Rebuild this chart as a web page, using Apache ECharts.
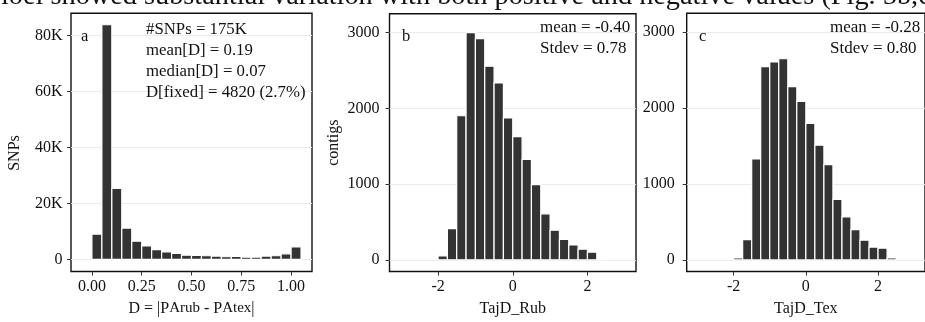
<!DOCTYPE html>
<html><head><meta charset="utf-8">
<script src="https://cdn.jsdelivr.net/npm/echarts@6/dist/echarts.min.js"></script>
<style>html,body{margin:0;padding:0;background:#fff;overflow:hidden}#c{width:925px;height:322px}</style>
</head><body><div id="c"></div>
<script>
// ---- data ----
const aEdges = [0, 0.05, 0.10, 0.15, 0.20, 0.25, 0.30, 0.35, 0.40, 0.45, 0.50, 0.55, 0.60, 0.65, 0.70, 0.75, 0.80, 0.85, 0.90, 0.95, 1.00, 1.05];
const aCounts = [9060, 83900, 25400, 11200, 6500, 4800, 3500, 2700, 2100, 1500, 1400, 1300, 1200, 940, 1060, 820, 820, 1200, 1300, 2000, 4500];
const aXTicks = [0, 0.25, 0.5, 0.75, 1.0];
const aYTicks = [0, 20000, 40000, 60000, 80000];
const tajEdges = [-2, -1.75, -1.5, -1.25, -1, -0.75, -0.5, -0.25, 0, 0.25, 0.5, 0.75, 1, 1.25, 1.5, 1.75, 2, 2.25, 2.5];
const rubCounts = [52, 412, 1903, 3000, 2922, 2558, 2337, 1873, 1626, 1327, 993, 607, 390, 269, 195, 139, 100, 9];
const texCounts = [26, 268, 1329, 2545, 2606, 2649, 2281, 2087, 1797, 1511, 1255, 797, 567, 398, 260, 169, 156, 26];
const tajXTicks = [-2, 0, 2];
const tajYTicks = [0, 1000, 2000, 3000];
const annA = ['#SNPs = 175K', 'mean[D] = 0.19', 'median[D] = 0.07', 'D[fixed] = 4820 (2.7%)'];
const annB = ['mean = -0.40', 'Stdev = 0.78'];
const annC = ['mean = -0.28', 'Stdev = 0.80'];
const panelLetters = ['a', 'b', 'c'];
const yTitleA = 'SNPs';
const topLine = 'ioel showed substantial variation with both positive and negative values (Fig. 5b,c';

// ---- helpers ----
const FONT = 'Liberation Serif';
const TXT = '#111';
function toBins(edges, counts) {
  return counts.map((c, i) => [edges[i], edges[i + 1], c]);
}
function renderBar(params, api) {
  const p0 = api.coord([api.value(0), api.value(2)]);
  const p1 = api.coord([api.value(1), 0]);
  return {
    type: 'rect',
    shape: { x: p0[0], y: p0[1], width: p1[0] - p0[0], height: p1[1] - p0[1] },
    style: { fill: '#333333', stroke: '#ffffff', lineWidth: 1.2 }
  };
}
function xAxis(gi, min, max, interval, ticks, fmt, name, rich) {
  return {
    type: 'value', gridIndex: gi, min: min, max: max, interval: interval,
    axisLine: { show: false, onZero: false },
    axisTick: { show: true, length: 4, lineStyle: { color: '#333', width: 1 }, customValues: ticks },
    axisLabel: { customValues: ticks, formatter: fmt, fontFamily: FONT, fontSize: 16, color: TXT, margin: 7 },
    splitLine: { show: false },
    name: name, nameLocation: 'middle', nameGap: 29.5,
    nameTextStyle: Object.assign({ fontFamily: FONT, fontSize: 16, color: TXT }, rich ? { rich: rich } : {})
  };
}
function yAxis(gi, min, max, interval, ticks, fmt, name, margin) {
  return {
    type: 'value', gridIndex: gi, min: min, max: max, interval: interval,
    axisLine: { show: false, onZero: false },
    axisTick: { show: true, length: 4, lineStyle: { color: '#333', width: 1 }, customValues: ticks },
    axisLabel: { customValues: ticks, formatter: fmt, fontFamily: FONT, fontSize: 16, color: TXT, margin: margin },
    splitLine: { show: true, lineStyle: { color: '#ebebeb', width: 1 } },
    name: name, nameLocation: 'middle', nameGap: 48,
    nameTextStyle: { fontFamily: FONT, fontSize: 16, color: TXT }
  };
}
function gridBox(left, top, width, height) {
  return { left: left, top: top, width: width, height: height, show: true, borderColor: '#111', borderWidth: 1.4, backgroundColor: '#fff', containLabel: false };
}
function textEl(x, y, s, size) {
  return { type: 'text', x: x, y: y, z: 100, style: { text: s, fontFamily: FONT, fontSize: size || 16, fill: TXT, align: 'left', verticalAlign: 'middle' } };
}

const subRich = {
  n: { fontFamily: FONT, fontSize: 16, color: TXT, lineHeight: 16, verticalAlign: 'top' },
  s: { fontFamily: FONT, fontSize: 15, color: TXT, lineHeight: 23, verticalAlign: 'top' }
};

const graphics = [];
graphics.push({ type: 'text', x: 1, y: -3, z: 100, style: { text: topLine, fontFamily: FONT, fontSize: 28.3, fill: '#111', align: 'left', verticalAlign: 'middle' } });
graphics.push({ type: 'text', x: 15, y: 153, rotation: Math.PI / 2, z: 100, style: { text: yTitleA, fontFamily: FONT, fontSize: 16, fill: TXT, align: 'center', verticalAlign: 'middle' } });
graphics.push(textEl(81, 36.5, panelLetters[0], 16.5));
graphics.push(textEl(402, 36.5, panelLetters[1], 16.5));
graphics.push(textEl(699, 36.5, panelLetters[2], 16.5));
annA.forEach((s, i) => graphics.push(textEl(146, 29.5 + i * 21, s, 16.8)));
annB.forEach((s, i) => graphics.push(textEl(540, 27.3 + i * 21.3, s, 17)));
annC.forEach((s, i) => graphics.push(textEl(830, 27.3 + i * 21.3, s, 17)));

const chart = echarts.init(document.getElementById('c'), null, { renderer: 'canvas', width: 925, height: 322 });
chart.setOption({
  animation: false,
  backgroundColor: '#ffffff',
  grid: [
    gridBox(71, 13.3, 241, 262),
    gridBox(389.5, 13.8, 246.5, 262),
    gridBox(686.7, 13.3, 246.5, 262)
  ],
  xAxis: [
    xAxis(0, -0.105, 1.105, 0.25, aXTicks, v => v.toFixed(2), '{n|D = |P}{s|Arub}{n| - P}{s|Atex}{n||}', subRich),
    xAxis(1, -3.3, 3.3, 2, tajXTicks, v => String(v), 'TajD_Rub'),
    xAxis(2, -3.3, 3.3, 2, tajXTicks, v => String(v), 'TajD_Tex')
  ],
  yAxis: [
    yAxis(0, -4330, 88000, 20000, aYTicks, v => v === 0 ? '0' : (v / 1000) + 'K', '', 8.5),
    yAxis(1, -155, 3250, 1000, tajYTicks, v => String(v), 'contigs', 10),
    yAxis(2, -152, 3247, 1000, tajYTicks, v => String(v), '', 12)
  ],
  series: [
    { type: 'custom', xAxisIndex: 0, yAxisIndex: 0, renderItem: renderBar, encode: { x: [0, 1], y: 2 }, data: toBins(aEdges, aCounts) },
    { type: 'custom', xAxisIndex: 1, yAxisIndex: 1, renderItem: renderBar, encode: { x: [0, 1], y: 2 }, data: toBins(tajEdges, rubCounts) },
    { type: 'custom', xAxisIndex: 2, yAxisIndex: 2, renderItem: renderBar, encode: { x: [0, 1], y: 2 }, data: toBins(tajEdges, texCounts) }
  ],
  graphic: graphics
});
</script></body></html>
